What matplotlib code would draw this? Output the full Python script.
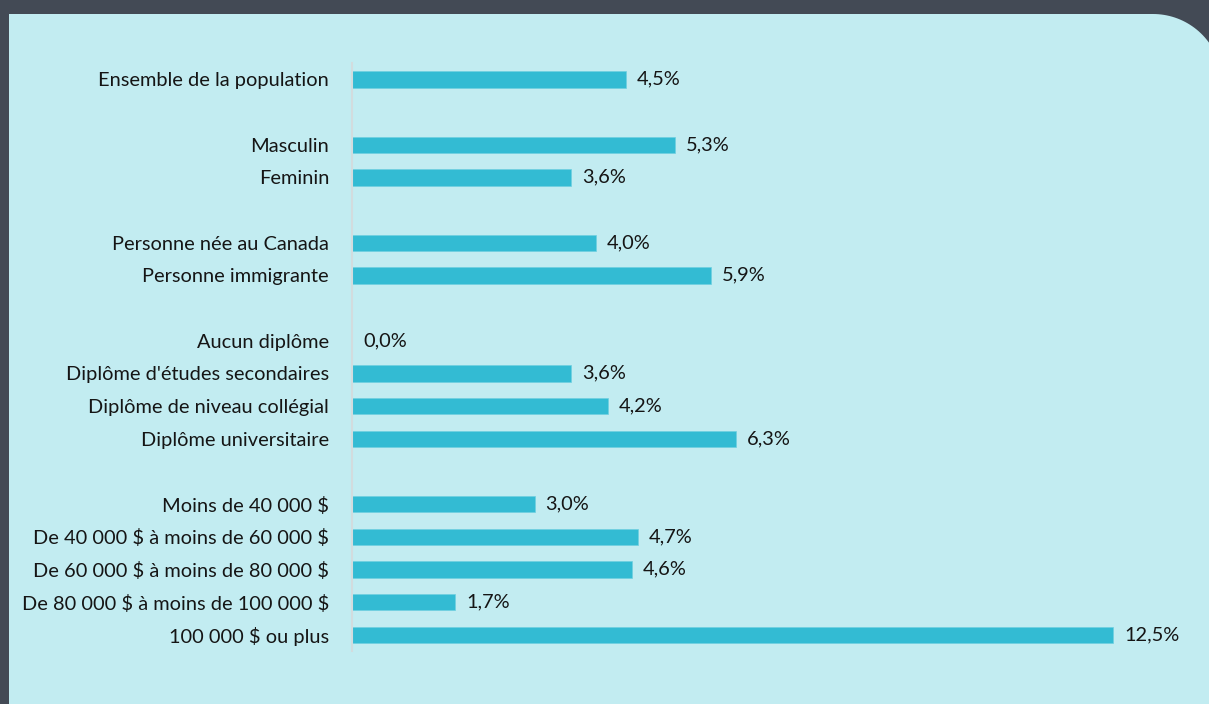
import numpy as np
import matplotlib.pyplot as plt
from matplotlib.path import Path
from matplotlib.patches import PathPatch

# Share of each group (%)
labels = [
    "Ensemble de la population",
    "Masculin", "Feminin",
    "Personne née au Canada", "Personne immigrante",
    "Aucun diplôme", "Diplôme d'études secondaires",
    "Diplôme de niveau collégial", "Diplôme universitaire",
    "Moins de 40 000 $", "De 40 000 $ à moins de 60 000 $",
    "De 60 000 $ à moins de 80 000 $", "De 80 000 $ à moins de 100 000 $",
    "100 000 $ ou plus",
]
values = [4.5, 5.3, 3.6, 4.0, 5.9, 0.0, 3.6, 4.2, 6.3, 3.0, 4.7, 4.6, 1.7, 12.5]
# row slot of each bar (blank slot between groups)
rows = [0, 2, 3, 5, 6, 8, 9, 10, 11, 13, 14, 15, 16, 17]

W, H = 1209, 704
plt.rcParams['font.family'] = ['Lato', 'DejaVu Sans']
plt.rcParams['text.parse_math'] = False
fig = plt.figure(figsize=(W / 100, H / 100), dpi=100, facecolor="#434a55")

# light panel with a rounded top-right corner
left, top, r = 9, 14, 69
cx, cy = 1153, top + r
t = np.linspace(np.pi / 2, 0, 40)
arc = [(cx + r * np.cos(a), H - (cy - r * np.sin(a))) for a in t]
verts = [(left, -10), (left, H - top)] + arc + [(W + 20, -10), (left, -10)]
verts = [(x / W, y / H) for x, y in verts]
panel = PathPatch(Path(verts), facecolor="#c2ecf1", edgecolor="none",
                  transform=fig.transFigure, zorder=-5)
fig.patches.append(panel)

x0, x1 = 352, 1113
scale = (x1 - x0) / 12.5
ax = fig.add_axes([x0 / W, (H - 651) / H, 14 * scale / W, 588 / H])
ax.set_facecolor("none")
ax.barh(rows, values, height=0.5, color="#33bbd3", edgecolor="#6fd0e0", linewidth=0.5)
ax.set_xlim(0, 14)
ax.set_ylim(17.5, -0.5)

fs = 14.4
for y, v in zip(rows, values):
    ax.text(v + 11 / scale, y, f"{v:.1f}%".replace(".", ","), va="center",
            ha="left", fontsize=fs, color="#151515")

ax.set_yticks(rows)
ax.set_yticklabels(labels, fontsize=fs, color="#151515")
ax.tick_params(axis="y", length=0, pad=16.5)
ax.set_xticks([])
for s in ["top", "right", "bottom"]:
    ax.spines[s].set_visible(False)
ax.spines["left"].set_color("#d2dcde")
ax.spines["left"].set_linewidth(1.5)

fig.savefig("out.png", dpi=100, facecolor=fig.get_facecolor())
